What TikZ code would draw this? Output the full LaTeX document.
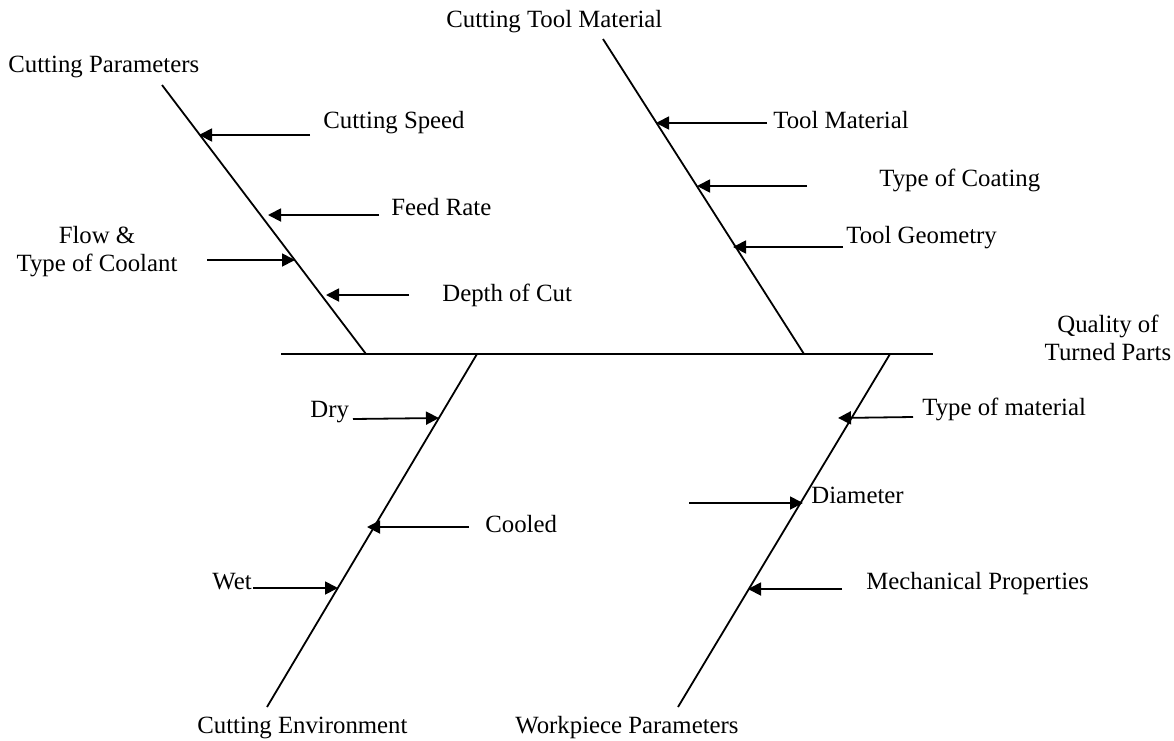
\documentclass[tikz,border=0pt]{standalone}
\usepackage{fontspec}
\setmainfont{Liberation Serif}
\usetikzlibrary{arrows.meta}
\tikzset{
  spine/.style={line width=1.3pt},
  bone/.style={line width=0.9pt},
  arr/.style={-{Triangle[length=6.5pt,width=6.5pt]},line width=0.9pt},
  lbl/.style={inner sep=0pt,anchor=base west,font=\fontsize{12.4}{14}\selectfont},
  ctrlbl/.style={inner sep=0pt,align=center,font=\fontsize{12.4}{14}\selectfont}
}
\begin{document}
\begin{tikzpicture}[x=0.5pt,y=-0.5pt]
  \fill[white] (0,0) rectangle (1174,740);
  \useasboundingbox (0,0) rectangle (1174,740);

  % spine and bones
  \coordinate (s1) at (281,354);
  \coordinate (s2) at (933,354);
  \coordinate (cpT) at (162,85);   \coordinate (cpB) at (366,354);
  \coordinate (ctT) at (603,39);   \coordinate (ctB) at (804,354);
  \coordinate (ceT) at (477,354);  \coordinate (ceB) at (267,707);
  \coordinate (wpT) at (890,354);  \coordinate (wpB) at (678,707);
  \draw[spine] (s1) -- (s2);
  \draw[bone] (cpT) -- (cpB);
  \draw[bone] (ctT) -- (ctB);
  \draw[bone] (ceT) -- (ceB);
  \draw[bone] (wpT) -- (wpB);

  % heads
  \node[lbl] (cp) at (8,72) {Cutting Parameters};
  \node[lbl] (ct) at (446,27) {Cutting Tool Material};
  \node[lbl] (ce) at (197,733) {Cutting Environment};
  \node[lbl] (wp) at (515,733) {Workpiece Parameters};
  \node[ctrlbl] (q) at (1108,338) {Quality of\\Turned Parts};

  % causes
  \node[lbl] (cs) at (323,128) {Cutting Speed};
  \node[lbl] (fr) at (391,215) {Feed Rate};
  \node[ctrlbl] (fc) at (97,252) {Flow \&\\Type of Coolant};
  \node[lbl] (dc) at (442,301) {Depth of Cut};
  \node[lbl] (tm) at (773,128) {Tool Material};
  \node[lbl] (tc) at (879,186) {Type of Coating};
  \node[lbl] (tg) at (846,243) {Tool Geometry};
  \node[lbl] (dry) at (310,417) {Dry};
  \node[lbl] (co) at (485,532) {Cooled};
  \node[lbl] (wet) at (212,589) {Wet};
  \node[lbl] (ty) at (922,415) {Type of material};
  \node[lbl] (di) at (811,503) {Diameter};
  \node[lbl] (mp) at (866,589) {Mechanical Properties};

  % arrows
  \coordinate (csA) at (310,135);  \coordinate (csB) at (199,135);
  \coordinate (frA) at (379,215);  \coordinate (frB) at (268,215);
  \coordinate (fcA) at (207,260);  \coordinate (fcB) at (295,260);
  \coordinate (dcA) at (409,295);  \coordinate (dcB) at (326,295);
  \coordinate (tmA) at (767,123);  \coordinate (tmB) at (656,123);
  \coordinate (tcA) at (807,186);  \coordinate (tcB) at (697,186);
  \coordinate (tgA) at (843,247);  \coordinate (tgB) at (733,247);
  \coordinate (dryA) at (353,419); \coordinate (dryB) at (439,418);
  \coordinate (coA) at (469,527);  \coordinate (coB) at (367,527);
  \coordinate (wetA) at (253,588); \coordinate (wetB) at (338,588);
  \coordinate (tyA) at (913,417);  \coordinate (tyB) at (838,418);
  \coordinate (diA) at (689,503);  \coordinate (diB) at (803,503);
  \coordinate (mpA) at (842,589);  \coordinate (mpB) at (748,589);
  \foreach \c in {cs,fr,fc,dc,tm,tc,tg,dry,co,wet,ty,di,mp}
    \draw[arr] (\c A) -- (\c B);
\end{tikzpicture}
\end{document}
